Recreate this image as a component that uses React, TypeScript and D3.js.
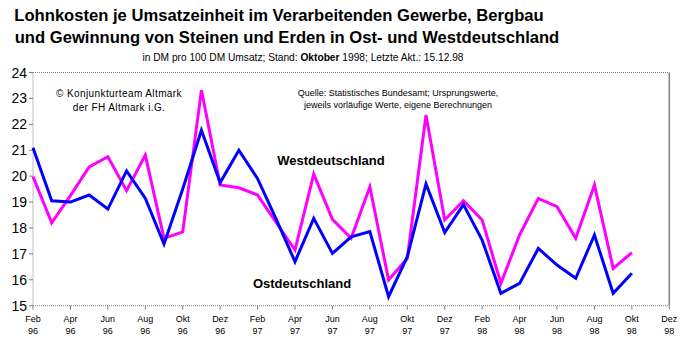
import * as d3 from 'd3';

// Monthly values, Feb 96 .. Okt 98
const ost = [
  21.1, 19.05, 19.0, 19.27, 18.73, 20.2, 19.15, 17.38, 19.5, 21.77, 19.75,
  21.0, 19.9, 18.33, 16.7, 18.37, 17.02, 17.66, 17.86, 15.35, 16.89, 19.7, 17.82,
  18.9, 17.53, 15.48, 15.86, 17.21, 16.57, 16.06, 17.73, 15.48, 16.25,
];
const west = [
  19.98, 18.2, 19.25, 20.36, 20.75, 19.44, 20.81, 17.6, 17.85, 23.32, 19.66,
  19.55, 19.27, 18.2, 17.15, 20.08, 18.33, 17.6, 19.59, 15.99, 16.83, 22.36, 18.31,
  19.05, 18.31, 15.86, 17.73, 19.14, 18.82, 17.6, 19.66, 16.44, 17.05,
];
const tickMonths = ['Feb', 'Apr', 'Jun', 'Aug', 'Okt', 'Dez'];
const tickYears = ['96', '97', '98'];
const yTicks = [15, 16, 17, 18, 19, 20, 21, 22, 23, 24];

const W = 691;
const H = 350;
const font = '"Liberation Sans", Arial, sans-serif';

export default function App() {
  const x = d3.scaleLinear().domain([0, 34]).range([33, 669.3]);
  const y = d3.scaleLinear().domain([15, 24]).range([305.7, 72.5]);

  const line = d3
    .line<number>()
    .x((_, i) => x(i))
    .y((d) => y(d));

  const xTicks = tickYears.flatMap((yr) => tickMonths.map((m) => ({ m, yr })));

  return (
    <svg
      width={W}
      height={H}
      style={{ position: 'absolute', left: 0, top: 0, background: '#fff' }}
      fontFamily={font}
    >
      {/* title */}
      <text x={279} y={21} textAnchor="middle" fontSize={16.6} fontWeight="bold">
        Lohnkosten je Umsatzeinheit im Verarbeitenden Gewerbe, Bergbau
      </text>
      <text x={287} y={43} textAnchor="middle" fontSize={16.6} fontWeight="bold">
        und Gewinnung von Steinen und Erden in Ost- und Westdeutschland
      </text>
      <text x={303} y={61} textAnchor="middle" fontSize={10.2}>
        in DM pro 100 DM Umsatz; Stand: <tspan fontWeight="bold">Oktober</tspan> 1998; Letzte
        Akt.: 15.12.98
      </text>

      {/* frame */}
      <line x1={x(0)} x2={x(34)} y1={y(24)} y2={y(24)} stroke="#808080" strokeDasharray="1,1" />
      <line x1={x(34)} x2={x(34)} y1={y(24)} y2={y(15)} stroke="#808080" strokeWidth={1.5} />
      <line x1={x(0)} x2={x(0)} y1={y(24)} y2={y(15)} stroke="#808080" strokeDasharray="1,1" />
      <line x1={x(0)} x2={x(34)} y1={y(15)} y2={y(15)} stroke="#808080" strokeDasharray="1,1" />

      {/* y axis */}
      {yTicks.map((t) => (
        <g key={t}>
          <line x1={x(0) - 4} x2={x(0)} y1={y(t)} y2={y(t)} stroke="#808080" />
          <text x={27} y={y(t) + 5} textAnchor="end" fontSize={14}>
            {t}
          </text>
        </g>
      ))}

      {/* x axis */}
      {xTicks.map((t, i) => (
        <g key={i}>
          <line x1={x(i * 2)} x2={x(i * 2)} y1={y(15)} y2={y(15) + 4} stroke="#808080" />
          <text x={x(i * 2)} y={322} textAnchor="middle" fontSize={9}>
            {t.m}
          </text>
          <text x={x(i * 2)} y={334} textAnchor="middle" fontSize={9}>
            {t.yr}
          </text>
        </g>
      ))}

      {/* series */}
      <path d={line(west) ?? ''} fill="none" stroke="#ff00ff" strokeWidth={3} />
      <path d={line(ost) ?? ''} fill="none" stroke="#0000ff" strokeWidth={3} />

      {/* annotations */}
      <text x={119} y={97} textAnchor="middle" fontSize={10} letterSpacing={0.4}>
        © Konjunkturteam Altmark
      </text>
      <text x={119} y={111} textAnchor="middle" fontSize={10} letterSpacing={0.4}>
        der FH Altmark i.G.
      </text>
      <text x={398} y={96} textAnchor="middle" fontSize={9}>
        Quelle: Statistisches Bundesamt; Ursprungswerte,
      </text>
      <text x={398} y={108} textAnchor="middle" fontSize={9}>
        jeweils vorläufige Werte, eigene Berechnungen
      </text>
      <text x={331} y={165} textAnchor="middle" fontSize={13} fontWeight="bold">
        Westdeutschland
      </text>
      <text x={302} y={288} textAnchor="middle" fontSize={13} fontWeight="bold">
        Ostdeutschland
      </text>
    </svg>
  );
}
